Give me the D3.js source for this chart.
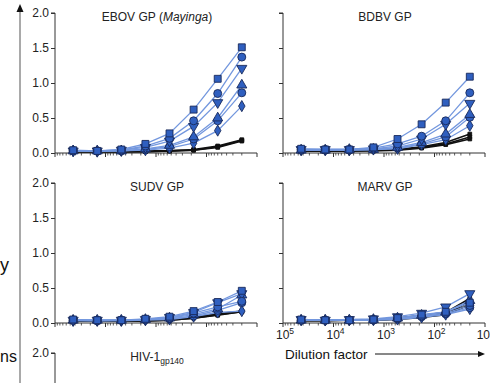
<!DOCTYPE html>
<html>
<head>
<meta charset="utf-8">
<script src="https://cdn.jsdelivr.net/npm/d3@7"></script>
<style>
  html, body { margin: 0; padding: 0; background: #fff; }
  svg { display: block; font-family: "Liberation Sans", Arial, sans-serif; }
</style>
</head>
<body>
<div id="chart"></div>
<script>
// dilution series (3-fold), left to right on a reversed log axis
const dilutions = [43740, 14580, 4860, 1620, 540, 180, 60, 20];
const majorTicks = [1e5, 1e4, 1e3, 1e2, 10];
const yTicks = [0, 0.5, 1.0, 1.5, 2.0];

// series order: square, circle, triangle-down, triangle-up, circle 2, diamond, then 3 controls
const seriesShapes = ["square", "circle", "triDown", "triUp", "circle", "diamond", "ctrl", "ctrl", "ctrl"];

const ebovValues = [
  [0.04, 0.03, 0.05, 0.13, 0.28, 0.62, 1.06, 1.51],
  [0.03, 0.03, 0.04, 0.10, 0.21, 0.46, 0.85, 1.37],
  [0.03, 0.03, 0.04, 0.08, 0.17, 0.38, 0.72, 1.21],
  [0.03, 0.03, 0.03, 0.06, 0.11, 0.23, 0.50, 0.97],
  [0.03, 0.03, 0.03, 0.05, 0.09, 0.20, 0.46, 0.86],
  [0.03, 0.02, 0.03, 0.04, 0.07, 0.14, 0.32, 0.67],
  [0.02, 0.02, 0.02, 0.03, 0.03, 0.05, 0.10, 0.19],
  [0.02, 0.02, 0.02, 0.02, 0.03, 0.04, 0.09, 0.18],
  [0.02, 0.02, 0.02, 0.02, 0.03, 0.04, 0.08, 0.17]
];
const bdbvValues = [
  [0.06, 0.05, 0.05, 0.08, 0.20, 0.41, 0.72, 1.09],
  [0.05, 0.05, 0.05, 0.07, 0.13, 0.24, 0.46, 0.86],
  [0.05, 0.05, 0.05, 0.06, 0.10, 0.20, 0.41, 0.71],
  [0.04, 0.04, 0.05, 0.05, 0.08, 0.15, 0.27, 0.55],
  [0.04, 0.04, 0.04, 0.05, 0.07, 0.13, 0.23, 0.51],
  [0.04, 0.04, 0.04, 0.05, 0.06, 0.12, 0.19, 0.39],
  [0.03, 0.03, 0.03, 0.04, 0.05, 0.09, 0.15, 0.27],
  [0.03, 0.03, 0.03, 0.04, 0.05, 0.08, 0.13, 0.23],
  [0.03, 0.03, 0.03, 0.03, 0.04, 0.07, 0.12, 0.20]
];
const sudvValues = [
  [0.05, 0.04, 0.04, 0.06, 0.09, 0.17, 0.30, 0.46],
  [0.04, 0.04, 0.04, 0.05, 0.07, 0.14, 0.23, 0.31],
  [0.04, 0.04, 0.04, 0.05, 0.08, 0.15, 0.29, 0.42],
  [0.04, 0.04, 0.04, 0.05, 0.07, 0.12, 0.20, 0.40],
  [0.04, 0.03, 0.04, 0.05, 0.06, 0.10, 0.18, 0.29],
  [0.03, 0.03, 0.03, 0.04, 0.05, 0.09, 0.15, 0.17],
  [0.03, 0.03, 0.03, 0.04, 0.05, 0.08, 0.13, 0.17],
  [0.03, 0.03, 0.03, 0.03, 0.04, 0.07, 0.12, 0.16],
  [0.03, 0.03, 0.03, 0.03, 0.04, 0.07, 0.11, 0.16]
];
const marvValues = [
  [0.05, 0.04, 0.04, 0.05, 0.07, 0.12, 0.16, 0.29],
  [0.04, 0.04, 0.04, 0.05, 0.06, 0.10, 0.14, 0.25],
  [0.05, 0.04, 0.05, 0.06, 0.09, 0.14, 0.23, 0.42],
  [0.04, 0.04, 0.04, 0.05, 0.07, 0.11, 0.16, 0.32],
  [0.04, 0.04, 0.04, 0.04, 0.06, 0.09, 0.13, 0.22],
  [0.04, 0.04, 0.04, 0.04, 0.05, 0.08, 0.12, 0.20],
  [0.04, 0.04, 0.04, 0.05, 0.07, 0.11, 0.15, 0.35],
  [0.04, 0.04, 0.04, 0.04, 0.06, 0.09, 0.13, 0.30],
  [0.03, 0.03, 0.04, 0.04, 0.05, 0.08, 0.12, 0.26]
];

const W = 490, H = 383;
const blueLine = "#7397de", blueFill = "#2f5fbf", blueStroke = "#18295a";

const svg = d3.select("#chart").append("svg")
  .attr("width", W).attr("height", H);

// panel layout: x range and top of the 0..2 y range (70 px per unit)
const panels = [
  { title: "EBOV GP", italic: "Mayinga", x0: 55, x1: 257, yTop: 13, data: ebovValues, yLabels: true, ticks: yTicks },
  { title: "BDBV GP", x0: 283, x1: 485, yTop: 13, data: bdbvValues, yLabels: false, ticks: yTicks },
  { title: "SUDV GP", x0: 55, x1: 257, yTop: 183, data: sudvValues, yLabels: true, ticks: yTicks },
  { title: "MARV GP", x0: 283, x1: 485, yTop: 183, data: marvValues, yLabels: false, xLabels: true, ticks: yTicks },
  { title: "HIV-1", sub: "gp140", x0: 55, x1: 257, yTop: 353, data: null, yLabels: true, ticks: [2.0] }
];

function symbolPath(shape) {
  const map = {
    square: [d3.symbolSquare, 48],
    circle: [d3.symbolCircle, 50],
    triDown: [d3.symbolTriangle, 44],
    triUp: [d3.symbolTriangle, 44],
    diamond: [d3.symbolDiamond, 36],
    ctrl: [d3.symbolSquare, 14]
  };
  const m = map[shape];
  return d3.symbol().type(m[0]).size(m[1])();
}

function drawPanel(p) {
  const x = d3.scaleLog().domain([1e5, 10]).range([p.x0, p.x1]);
  const y = d3.scaleLinear().domain([0, 2]).range([p.yTop + 140, p.yTop]);
  const g = svg.append("g");

  // y axis
  const yAxis = d3.axisLeft(y).tickValues(p.ticks).tickSize(4).tickPadding(2)
    .tickFormat(p.yLabels ? d3.format(".1f") : "");
  const ya = g.append("g").attr("transform", `translate(${p.x0},0)`).call(yAxis);
  ya.select(".domain").attr("stroke", "#333").attr("stroke-width", 1).attr("d", `M-4,${y(2)}H0V${y(0)}`);
  ya.selectAll(".tick line").attr("stroke", "#333");
  ya.selectAll("text").attr("fill", "#222").style("font-size", "12px")
    .style("font-family", "'Liberation Sans', Arial, sans-serif");

  // x axis: major + minor log ticks
  const minor = [];
  [1e4, 1e3, 1e2, 10].forEach(d => { for (let k = 2; k <= 9; k++) minor.push(k * d); });
  const xa = g.append("g").attr("transform", `translate(0,${y(0)})`);
  xa.append("path").attr("d", `M${p.x0},0H${p.x1}`).attr("stroke", "#333").attr("fill", "none");
  xa.selectAll(".minor").data(minor).enter().append("line")
    .attr("x1", d => x(d)).attr("x2", d => x(d)).attr("y1", 0).attr("y2", 2.5)
    .attr("stroke", "#333").attr("stroke-width", 0.8);
  xa.selectAll(".major").data(majorTicks).enter().append("line")
    .attr("x1", d => x(d)).attr("x2", d => x(d)).attr("y1", 0).attr("y2", 4)
    .attr("stroke", "#333");
  if (p.xLabels) {
    const t = xa.selectAll(".lab").data(majorTicks).enter().append("text")
      .attr("x", d => d > 10 ? x(d) + 2 : W)
      .attr("y", 16)
      .attr("text-anchor", d => d > 10 ? "middle" : "end")
      .attr("fill", "#222").style("font-size", "12px");
    t.append("tspan").text("10");
    t.filter(d => d > 10).append("tspan").attr("dy", -5).style("font-size", "8.5px")
      .text(d => Math.round(Math.log10(d)));
  }

  // title
  const cx = (p.x0 + p.x1) / 2;
  const tt = g.append("text").attr("x", cx + 1).attr("y", p.yTop + 8)
    .attr("text-anchor", "middle").attr("fill", "#222").style("font-size", "12px");
  tt.append("tspan").text(p.title);
  if (p.italic) {
    tt.append("tspan").text(" (");
    tt.append("tspan").style("font-style", "italic").text(p.italic);
    tt.append("tspan").text(")");
  }
  if (p.sub) tt.append("tspan").attr("dy", 3).style("font-size", "8.5px").text(p.sub);

  if (!p.data) return;

  const line = d3.line().x((d, i) => x(dilutions[i])).y(d => y(d));
  const series = p.data.map((vals, i) => ({ vals, shape: seriesShapes[i], ctrl: seriesShapes[i] === "ctrl" }));

  // controls first (black), then blue
  const order = series.filter(s => s.ctrl).concat(series.filter(s => !s.ctrl).reverse());
  g.selectAll(".ln").data(order).enter().append("path")
    .attr("d", s => line(s.vals)).attr("fill", "none")
    .attr("stroke", s => s.ctrl ? "#111" : blueLine)
    .attr("stroke-width", s => s.ctrl ? 1.6 : 1.3);

  order.forEach(s => {
    g.selectAll(null).data(s.vals).enter().append("path")
      .attr("d", symbolPath(s.shape))
      .attr("transform", (d, i) => `translate(${x(dilutions[i])},${y(d)})` + (s.shape === "triDown" ? " rotate(180)" : ""))
      .attr("fill", s.ctrl ? "#111" : blueFill)
      .attr("stroke", s.ctrl ? "#111" : blueStroke)
      .attr("stroke-width", 0.9);
  });
}

panels.forEach(drawPanel);

// left vertical arrow
svg.append("line").attr("x1", 20).attr("x2", 20).attr("y1", H).attr("y2", 9)
  .attr("stroke", "#8c8c8c").attr("stroke-width", 1.5);
svg.append("path").attr("d", "M20,4L23.5,12L16.5,12Z").attr("fill", "#111");

// axis title fragments at the left edge
svg.append("text").attr("x", 0).attr("y", 271)
  .attr("fill", "#111").style("font-size", "18px").text("y");
svg.append("text").attr("x", 0).attr("y", 362)
  .attr("fill", "#111").style("font-size", "16px").text("ns");

// dilution factor label with arrow
svg.append("text").attr("x", 285).attr("y", 359).attr("fill", "#111")
  .style("font-size", "13.5px").text("Dilution factor");
svg.append("line").attr("x1", 375).attr("x2", 479).attr("y1", 354).attr("y2", 354)
  .attr("stroke", "#111").attr("stroke-width", 1);
svg.append("path").attr("d", "M485,354L478,351L478,357Z").attr("fill", "#111");
</script>
</body>
</html>
